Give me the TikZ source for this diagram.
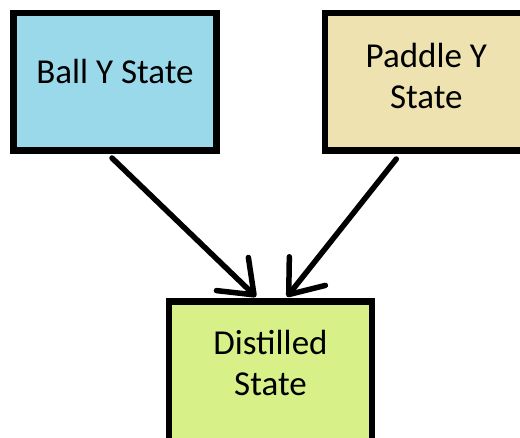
\documentclass[tikz,border=0pt]{standalone}
\usepackage{fontspec}
\setmainfont{Carlito}
\usepackage{xcolor}
\definecolor{ballBlue}{HTML}{9AD9EA}
\definecolor{paddleTan}{HTML}{EEE3B0}
\definecolor{distilledGreen}{HTML}{D8F088}
\usepackage{tikz}
\usetikzlibrary{positioning,calc,arrows.meta}
\tikzset{%
  stateBox/.style={%
    rectangle,
    draw=black,
    line width=6.5pt,
    minimum width=203pt,
    minimum height=137.5pt,
    inner sep=0pt
  },
  stateLabel/.style={%
    align=center,
    inner sep=0pt,
    font=\fontsize{35}{40.5}\selectfont
  },
  arrowLine/.style={%
    -{Straight Barb[length=30pt,width=46pt,round]},
    line width=5.5pt,
    line cap=round,
    color=black
  }
}

\begin{document}
\begin{tikzpicture}[x=1pt,y=-1pt]
  \useasboundingbox (0,0) rectangle (520,438);
  \node[stateBox, fill=ballBlue] (ball) at (115,82) {};
  \node[stateBox, fill=paddleTan, right=101.8pt of ball] (paddle) {};
  \node[stateBox, fill=distilledGreen, minimum height=142pt] (distilled) at (270.5,372.5) {};

  \node[stateLabel] (ballText) at ([yshift=10.8pt]ball.center) {Ball Y State};
  \node[stateLabel] (paddleText) at ([yshift=6.2pt]paddle.center) {Paddle Y\\State};
  \node[stateLabel] (distilledText) at ([yshift=9.6pt]distilled.center) {Distilled\\State};

  \draw[arrowLine] ([xshift=-3pt,yshift=-4pt]ball.south) -- ([xshift=-14.5pt,yshift=1.5pt]distilled.north);
  \draw[arrowLine] ([xshift=-30pt,yshift=-5pt]paddle.south) -- ([xshift=16.5pt,yshift=1.5pt]distilled.north);
\end{tikzpicture}
\end{document}
